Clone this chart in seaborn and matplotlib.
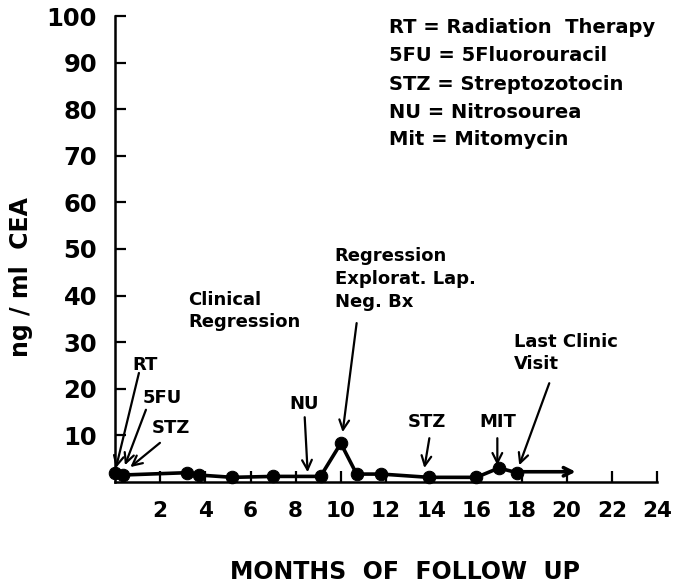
import matplotlib
matplotlib.use("Agg")
import matplotlib.pyplot as plt
import seaborn as sns
import pandas as pd

# ---- data ----
months = [0.0, 0.35, 3.2, 3.7, 5.2, 7.0, 9.1, 10.0, 10.7, 11.8, 13.9, 16.0, 17.0, 17.8]
cea = [2.0, 1.5, 2.0, 1.5, 1.0, 1.2, 1.2, 8.3, 1.7, 1.7, 1.0, 1.0, 3.0, 2.0]
x_ticks = [2, 4, 6, 8, 10, 12, 14, 16, 18, 20, 22, 24]
y_ticks = [10, 20, 30, 40, 50, 60, 70, 80, 90, 100]
legend_lines = ["RT = Radiation  Therapy", "5FU = 5Fluorouracil", "STZ = Streptozotocin",
                "NU = Nitrosourea", "Mit = Mitomycin"]
# (label, text x, text y, arrow tail x, tail y, tip x, tip y)
events = [
    ("RT", 0.78, 25.0, 1.06, 23.4, 0.04, 3.0),
    ("5FU", 1.23, 18.1, 1.37, 15.5, 0.44, 3.6),
    ("STZ", 1.62, 11.6, 1.99, 8.4, 0.68, 3.2),
    ("NU", 7.73, 16.7, 8.40, 13.9, 8.53, 2.1),
    ("STZ", 12.95, 12.9, 13.92, 9.4, 13.70, 3.0),
    ("MIT", 16.15, 12.9, 16.93, 9.4, 16.93, 3.6),
]
last_point_arrow_end = 20.4

df = pd.DataFrame({"months": months, "cea": cea})

sns.set_style("ticks")
plt.rcParams["font.family"] = ["DejaVu Sans"]
plt.rcParams["text.color"] = "black"
plt.rcParams["axes.labelcolor"] = "black"
plt.rcParams["xtick.color"] = "black"
plt.rcParams["ytick.color"] = "black"

fig = plt.figure(figsize=(6.83, 5.85), dpi=100)
ax = fig.add_axes([115/683, 1-482/585, 542/683, 466/585])

sns.lineplot(data=df, x="months", y="cea", ax=ax, color="black", linewidth=2.6,
             marker="o", markersize=9, markeredgecolor="black", markerfacecolor="black",
             clip_on=False, zorder=5)

# continuation arrow from last point
ax.annotate("", xy=(last_point_arrow_end, cea[-1] + 0.2), xytext=(months[-1], cea[-1] + 0.2),
            arrowprops=dict(arrowstyle="->,head_length=0.6,head_width=0.3", color="black",
                            lw=2.6, shrinkA=0, shrinkB=0))

ax.set_xlim(0, 24)
ax.set_ylim(0, 100)
ax.set_xticks(x_ticks)
ax.set_yticks(y_ticks)
ax.set_xticklabels([str(t) for t in x_ticks], fontsize=15.5, fontweight="bold")
ax.set_yticklabels([str(t) for t in y_ticks], fontsize=17.5, fontweight="bold")
ax.tick_params(axis="both", direction="in", length=8, width=1.6, color="black",
               labelcolor="black")
ax.tick_params(axis="x", pad=14)
ax.tick_params(axis="y", pad=13)
for s in ["top", "right"]:
    ax.spines[s].set_visible(False)
for s in ["left", "bottom"]:
    ax.spines[s].set_linewidth(1.8)
    ax.spines[s].set_color("black")

ax.set_xlabel("MONTHS  OF  FOLLOW  UP", fontsize=17, fontweight="bold", color="black")
ax.set_ylabel("ng / ml  CEA", fontsize=17, fontweight="bold", color="black")
ax.xaxis.set_label_coords(0.535, -0.168)
ax.yaxis.set_label_coords(-0.151, 0.44)

# legend-like text block
leg_y = [97.5, 91.6, 85.3, 79.3, 73.5]
for line, yy in zip(legend_lines, leg_y):
    ax.text(12.15, yy, line, fontsize=14, fontweight="bold", va="center", ha="left")

# free annotations
ax.text(3.23, 36.7, "Clinical\nRegression", fontsize=13, fontweight="bold",
        va="center", ha="left", linespacing=1.25)
ax.text(9.72, 43.5, "Regression\nExplorat. Lap.\nNeg. Bx", fontsize=13, fontweight="bold",
        va="center", ha="left", linespacing=1.35)
ax.annotate("", xy=(10.08, 10.7), xytext=(10.7, 34.1),
            arrowprops=dict(arrowstyle="->,head_length=0.7,head_width=0.35", color="black",
                            lw=1.6, shrinkA=0, shrinkB=0))
ax.text(17.68, 27.7, "Last Clinic\nVisit", fontsize=13, fontweight="bold",
        va="center", ha="left", linespacing=1.25)
ax.annotate("", xy=(17.9, 3.6), xytext=(19.23, 21.2),
            arrowprops=dict(arrowstyle="->,head_length=0.7,head_width=0.35", color="black",
                            lw=1.6, shrinkA=0, shrinkB=0))

for lab, tx, ty, ax0, ay0, ax1, ay1 in events:
    ax.text(tx, ty, lab, fontsize=13, fontweight="bold", va="center", ha="left")
    ax.annotate("", xy=(ax1, ay1), xytext=(ax0, ay0),
                arrowprops=dict(arrowstyle="->,head_length=0.7,head_width=0.35", color="black",
                                lw=1.6, shrinkA=0, shrinkB=0))

fig.savefig("out.png", dpi=100)
